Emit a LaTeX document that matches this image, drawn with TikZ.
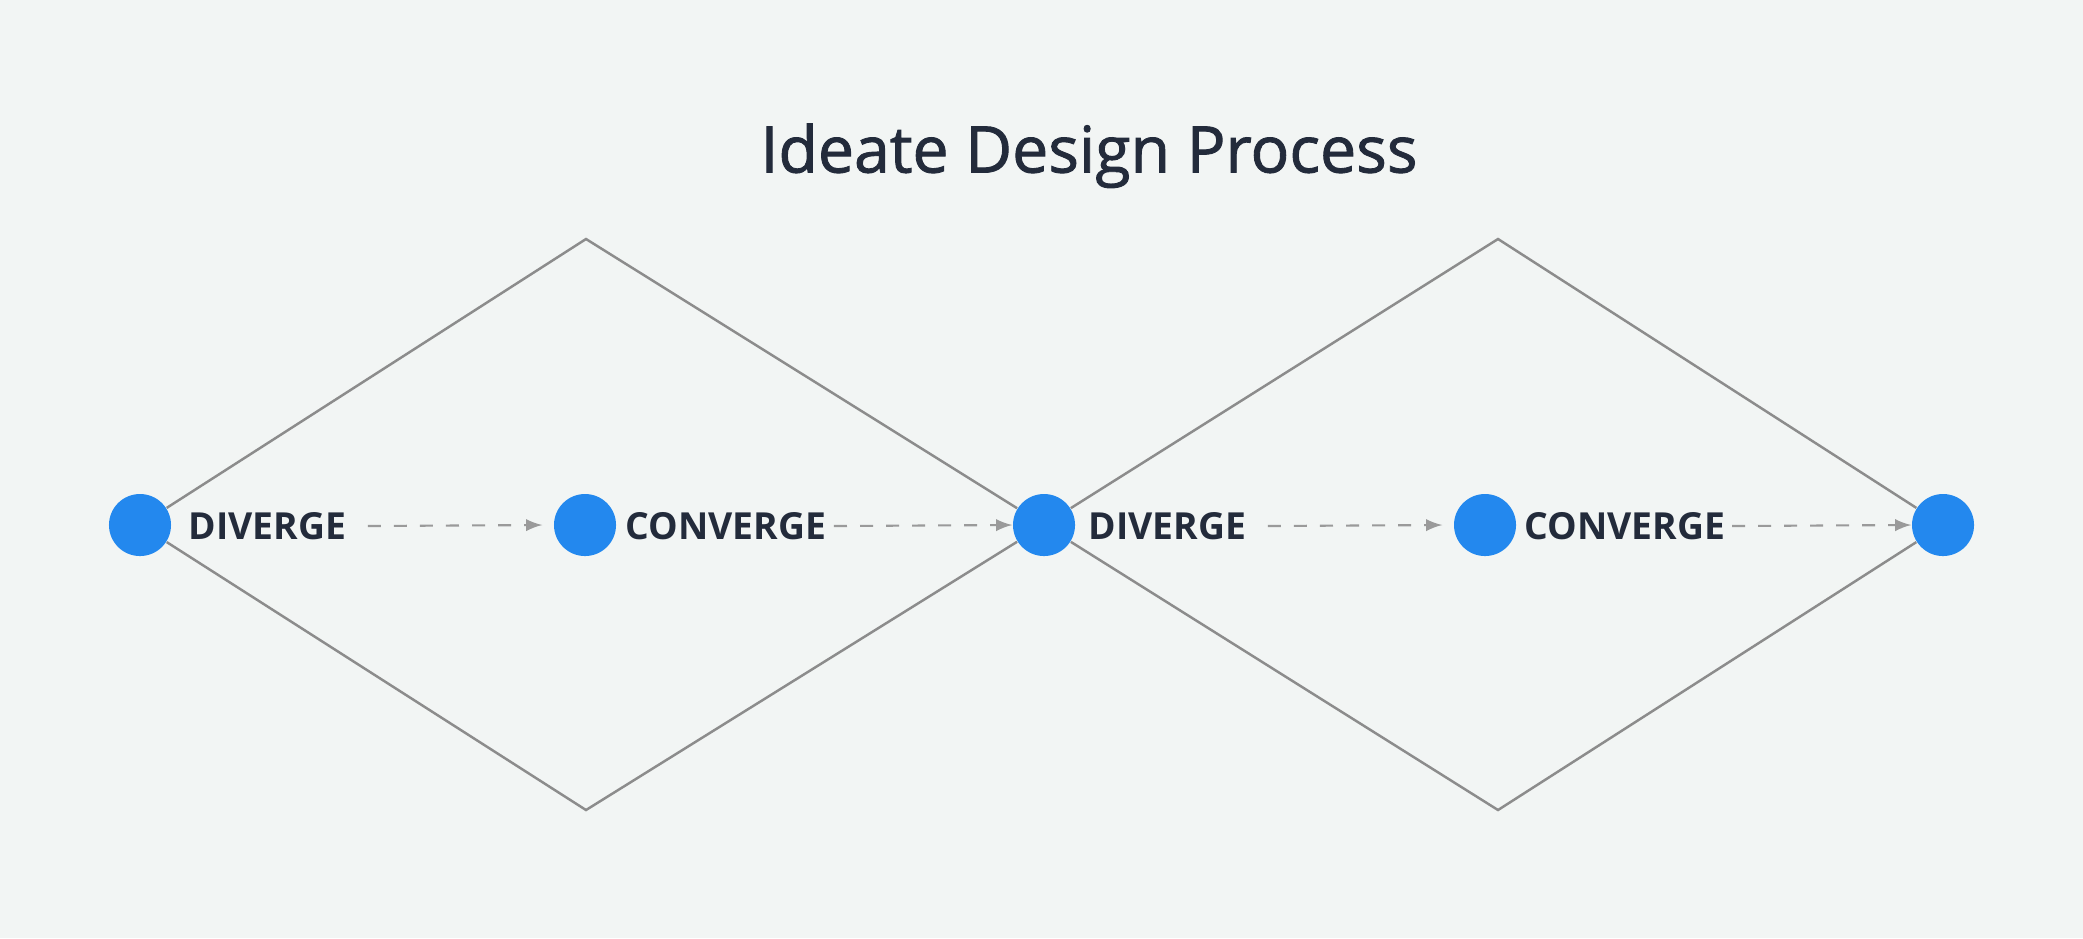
\documentclass[tikz,border=0pt]{standalone}
\usepackage{fontspec}
\setmainfont{Open Sans}
\newfontfamily\titrefont{Open Sans}[FakeBold=1.4]
\usetikzlibrary{calc}
\usetikzlibrary{arrows}
\usetikzlibrary{positioning}
\definecolor{fond}{HTML}{F2F5F4}
\definecolor{bleu}{HTML}{2388EE}
\definecolor{encre}{HTML}{232B3B}
\definecolor{trait}{HTML}{8C8C8C}
\definecolor{pointille}{HTML}{9A9A9A}

\begin{document}
\begin{tikzpicture}[x=0.01cm,y=-0.01cm,
  point/.style={circle,fill=bleu,inner sep=0pt,minimum size=0.62cm},
  etiquette/.style={font=\bfseries\fontsize{10.6}{12}\selectfont,text=encre,inner sep=0pt,anchor=west},
  fleche/.style={draw=pointille,dash pattern=on 0.13cm off 0.13cm,-latex,line width=0.6pt},
  losange/.style={draw=trait,line width=0.7pt}]

%fond et cadre
\fill[fond] (0,0) rectangle (2083,938);
\useasboundingbox (0,0) rectangle (2083,938);

%titre
\node[font=\titrefont\fontsize{18.3}{22}\selectfont,text=encre,anchor=base] (titre) at (1089,172.5) {Ideate Design Process};

%%%%%%%%%%%%%%%%%%%%%%%%
%Les points
%%%%%%%%%%%%%%%%%%%%%%%%
\node[point] (d1) at (140,525) {};
\node[point] (c1) at (585,525) {};
\node[point] (d2) at (1044,525) {};
\node[point] (c2) at (1485,525) {};
\node[point] (fin) at (1943,525) {};

%sommets des losanges
\coordinate (h1) at (586,239);
\coordinate (b1) at (586,810);
\coordinate (h2) at (1498,239);
\coordinate (b2) at (1498,810);

%%%%%%%%%%%%%%%%%%%%%%%%
%Les losanges
%%%%%%%%%%%%%%%%%%%%%%%%
\draw[losange] (d1) -- (h1) -- (d2) -- (b1) -- (d1);
\draw[losange] (d2) -- (h2) -- (fin) -- (b2) -- (d2);

%%%%%%%%%%%%%%%%%%%%%%%%
%Les textes
%%%%%%%%%%%%%%%%%%%%%%%%
\node[etiquette] (td1) at (188,526) {DIVERGE};
\node[etiquette] (tc1) at (625,526) {CONVERGE};
\node[etiquette] (td2) at (1088,526) {DIVERGE};
\node[etiquette] (tc2) at (1524,526) {CONVERGE};

%%%%%%%%%%%%%%%%%%%%%%%%
%Les fleches
%%%%%%%%%%%%%%%%%%%%%%%%
\draw[fleche] ([xshift=0.21cm]td1.east) -- ([xshift=-0.11cm]c1.west);
\draw[fleche] ([xshift=0.07cm]tc1.east) -- (d2.west);
\draw[fleche] ([xshift=0.21cm]td2.east) -- ([xshift=-0.11cm]c2.west);
\draw[fleche] ([xshift=0.06cm]tc2.east) -- (fin.west);

\end{tikzpicture}
\end{document}
